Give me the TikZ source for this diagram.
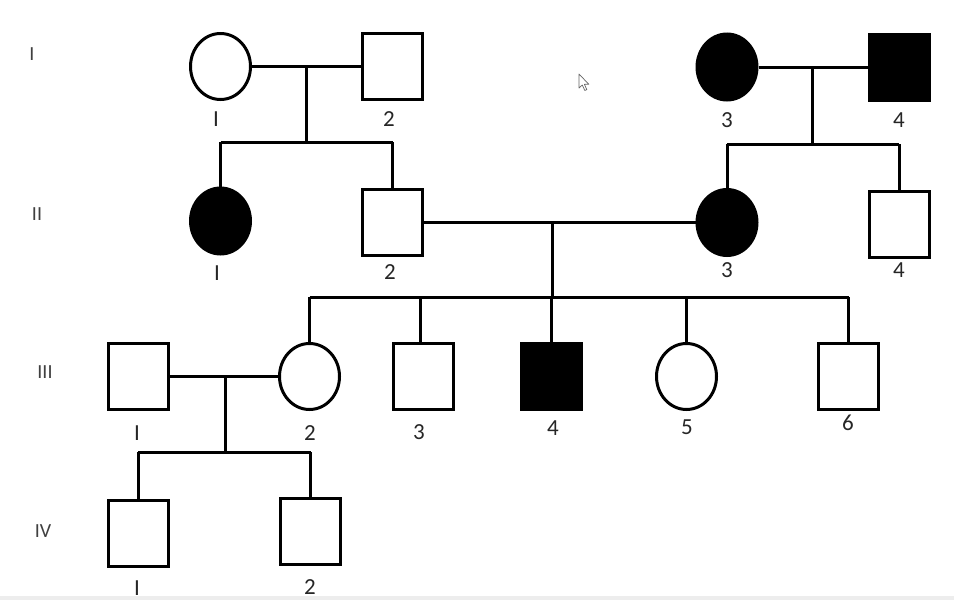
\documentclass[tikz,border=0pt]{standalone}
\usepackage{fontspec}
\setmainfont{Carlito}
\usetikzlibrary{shapes.geometric}
\begin{document}
\begin{tikzpicture}[x=1pt,y=-1pt,
  line width=3pt,
  fem/.style={ellipse,draw,minimum width=60pt,minimum height=66pt,inner sep=0pt},
  mal/.style={rectangle,draw,minimum width=60pt,minimum height=66pt,inner sep=0pt},
  aff/.style={fill=black},
  num/.style={text=black!85,font=\fontsize{23}{23}\selectfont,inner sep=0pt},
  gen/.style={text=black!75,font=\fontsize{20}{20}\selectfont,inner sep=0pt},
  link/.style={line width=3pt}]
\fill[white] (0,0) rectangle (954,600);
\useasboundingbox (0,0) rectangle (954,600);
\fill[black!7] (0,596) rectangle (954,600);

% generation labels
\node[gen] (gI) at (32,54) {I};
\node[gen] (gII) at (37,214) {II};
\node[gen] (gIII) at (45,372) {III};
\node[gen] (gIV) at (43,531) {IV};

% generation I
\node[fem] (I1) at (220.5,66.5) {};
\node[mal] (I2) at (392.5,66.5) {};
\node[fem,aff] (I3) at (727,67) {};
\node[mal,aff] (I4) at (899.5,67) {};
% generation II
\node[fem,aff] (II1) at (220.5,221) {};
\node[mal] (II2) at (392.5,222.5) {};
\node[fem,aff] (II3) at (727,222.5) {};
\node[mal] (II4) at (899,224.5) {};
% generation III
\node[mal] (III1) at (138,376.5) {};
\node[fem] (III2) at (309.5,376.5) {};
\node[mal] (III3) at (423,376.5) {};
\node[mal,aff] (III4) at (551.5,376.5) {};
\node[fem] (III5) at (686.5,376.5) {};
\node[mal] (III6) at (848.5,376.5) {};
% generation IV
\node[mal] (IV1) at (138,533) {};
\node[mal] (IV2) at (310.5,531) {};

% number labels
\node[num] (lI1) at (216,119) {I};
\node[num] (lI2) at (389,119) {2};
\node[num] (lI3) at (727,120) {3};
\node[num] (lI4) at (899,120) {4};
\node[num] (lII1) at (217,273) {I};
\node[num] (lII2) at (390,272) {2};
\node[num] (lII3) at (727,270) {3};
\node[num] (lII4) at (899,270) {4};
\node[num] (lIII1) at (137,433) {I};
\node[num] (lIII2) at (310,433) {2};
\node[num] (lIII3) at (419,432) {3};
\node[num] (lIII4) at (553,428) {4};
\node[num] (lIII5) at (687,427) {5};
\node[num] (lIII6) at (848,423) {6};
\node[num] (lIV1) at (137,588) {I};
\node[num] (lIV2) at (310,587) {2};

% family 1: I1 x I2
\coordinate (m1) at (306,67);
\coordinate (s1) at (306,142);
\draw[link] (I1.east) -- (I2.west);
\draw[link] (m1) -- (s1);
\draw[link] (II1.north |- s1) -- (II2.north |- s1);
\draw[link] (II1.north |- s1) -- (II1.north);
\draw[link] (II2.north |- s1) -- (II2.north);

% family 2: I3 x I4
\coordinate (m2) at (812,67);
\coordinate (s2) at (812,144);
\draw[link] (I3.east) -- (I4.west);
\draw[link] (m2) -- (s2);
\draw[link] (II3.north |- s2) -- (II4.north |- s2);
\draw[link] (II3.north |- s2) -- (II3.north);
\draw[link] (II4.north |- s2) -- (II4.north);

% family 3: II2 x II3
\coordinate (m3) at (552,223);
\coordinate (s3) at (552,297);
\draw[link] (II2.east) -- (II3.west);
\draw[link] (m3) -- (s3);
\draw[link] (III2.north |- s3) -- (III6.north |- s3);
\foreach \c in {III2,III4,III5,III6}{
  \draw[link] (\c.north |- s3) -- (\c.north);
}
\coordinate (c33) at (420,297);
\draw[link] (c33) -- (c33 |- III3.north);

% family 4: III1 x III2
\coordinate (m4) at (225,377);
\coordinate (s4) at (225,452);
\draw[link] (III1.east) -- (III2.west);
\draw[link] (m4) -- (s4);
\draw[link] (IV1.north |- s4) -- (IV2.north |- s4);
\draw[link] (IV1.north |- s4) -- (IV1.north);
\draw[link] (IV2.north |- s4) -- (IV2.north);

% mouse pointer
\draw[line width=0.7pt,draw=black!60,fill=white,line join=round]
  (579,74) -- (579,88) -- (582.3,85) -- (584.8,90.5) -- (586.8,89.6)
  -- (584.4,84.3) -- (588.8,84.3) -- cycle;
\end{tikzpicture}
\end{document}
